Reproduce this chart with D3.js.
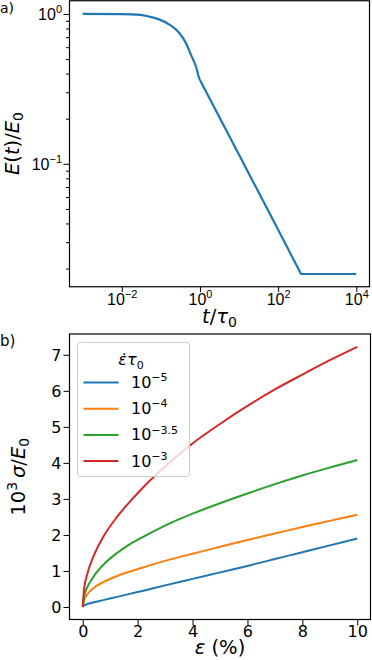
<!DOCTYPE html>
<html>
<head>
<meta charset="utf-8">
<script src="https://cdn.jsdelivr.net/npm/d3@7"></script>
<style>
  body { margin: 0; background: #fff; }
  svg { display: block; font-family: "DejaVu Sans", sans-serif; }
</style>
</head>
<body>
<div id="chart"></div>
<script>
// panel a) relaxation modulus
const relaxT = [0.001, 0.01, 0.03, 0.05, 0.09, 0.17, 0.3, 0.44, 0.59, 0.79, 0.96, 1, 10, 100, 385, 10000];
const relaxE = [1.0, 0.997, 0.985, 0.96, 0.92, 0.845, 0.743, 0.638, 0.533, 0.446, 0.372, 0.363, 0.115, 0.0363, 0.0184, 0.0184];
const kinkIndex = 11; // t = 1, smooth before, straight after

const topXTicks = [1e-2, 1, 1e2, 1e4];
const topXExp = ["\u22122", "0", "2", "4"];
const topYTicks = [0.1, 1];
const topYExp = ["\u22121", "0"];

// panel b) stress-strain curves
const strain = [0, 0.05, 0.15, 0.4, 0.75, 1.25, 1.75, 2.25, 3, 4, 5, 6, 7, 8, 9, 10];
const rateLabels = ["\u22125", "\u22124", "\u22123.5", "\u22123"];
const rateColors = ["#1f77b4", "#ff7f0e", "#2ca02c", "#d62728"];
const stressSlow = [0, 0.04, 0.075, 0.13, 0.19, 0.28, 0.37, 0.46, 0.60, 0.78, 0.96, 1.14, 1.33, 1.52, 1.71, 1.90];
const stressMid = [0, 0.18, 0.33, 0.53, 0.69, 0.86, 0.99, 1.11, 1.28, 1.48, 1.67, 1.86, 2.04, 2.22, 2.39, 2.56];
const stressFast = [0, 0.30, 0.52, 0.85, 1.17, 1.50, 1.76, 1.97, 2.26, 2.59, 2.88, 3.15, 3.41, 3.65, 3.87, 4.08];
const stressFastest = [0, 0.50, 0.87, 1.42, 1.95, 2.50, 2.95, 3.36, 3.90, 4.54, 5.08, 5.58, 6.04, 6.45, 6.85, 7.22];
const stressSeries = [stressSlow, stressMid, stressFast, stressFastest];
const botXTicks = [0, 2, 4, 6, 8, 10];
const botYTicks = [0, 1, 2, 3, 4, 5, 6, 7];

const W = 372, H = 660;
const FS = 16, LFS = 19.5;
const svg = d3.select("#chart").append("svg").attr("width", W).attr("height", H);

// write text made of parts: {t, i (italic), sup, sub}
function rich(sel, parts, size) {
    const small = Math.round(size * 0.7);
    let shift = 0;
    parts.forEach(p => {
        const ts = sel.append("tspan").text(p.t);
        let target = 0;
        if (p.sup) target = -size * 0.42;
        if (p.sub) target = size * 0.22;
        ts.attr("dy", target - shift);
        shift = target;
        if (p.sup || p.sub) ts.attr("font-size", small);
        if (p.i) ts.attr("font-style", "italic");
    });
    return sel;
}

// ---------- panel a
const ax = { left: 69, right: 370, top: 0, bottom: 287 };
const xa = d3.scaleLog().domain([Math.pow(10, -3.35), Math.pow(10, 4.35)]).range([ax.left, ax.right]);
const ya = d3.scaleLog().domain([Math.pow(10, -1.822), Math.pow(10, 0.093)]).range([ax.bottom, ax.top]);

const ga = svg.append("g");
ga.append("g")
    .attr("transform", `translate(0,${ax.bottom})`)
    .call(d3.axisBottom(xa).tickValues(topXTicks).tickSize(5).tickFormat(""))
    .call(g => g.select(".domain").remove())
    .selectAll(".tick").each(function(d, i) {
        const t = d3.select(this).append("text").attr("y", 18)
            .attr("fill", "#000").attr("font-size", FS).attr("text-anchor", "middle");
        rich(t, [{t: "10"}, {t: topXExp[i], sup: 1}], FS);
    });

const minorY = [];
[-2, -1].forEach(e => d3.range(2, 10).forEach(m => {
    const v = m * Math.pow(10, e);
    if (v >= ya.domain()[0]) minorY.push(v);
}));
ga.append("g")
    .attr("transform", `translate(${ax.left},0)`)
    .call(d3.axisLeft(ya).tickValues(minorY).tickSize(3).tickFormat(""))
    .call(g => g.select(".domain").remove());
ga.append("g")
    .attr("transform", `translate(${ax.left},0)`)
    .call(d3.axisLeft(ya).tickValues(topYTicks).tickSize(5.5).tickFormat(""))
    .call(g => g.select(".domain").remove())
    .selectAll(".tick").each(function(d, i) {
        const t = d3.select(this).append("text").attr("x", -7).attr("y", 5.5)
            .attr("fill", "#000").attr("font-size", FS).attr("text-anchor", "end");
        rich(t, [{t: "10"}, {t: topYExp[i], sup: 1}], FS);
    });

const relax = relaxT.map((t, i) => [t, relaxE[i]]);
ga.append("path")
    .datum(relax.slice(0, kinkIndex + 1))
    .attr("fill", "none").attr("stroke", "#1f77b4").attr("stroke-width", 2.2)
    .attr("d", d3.line().x(d => xa(d[0])).y(d => ya(d[1])).curve(d3.curveMonotoneX));
ga.append("path")
    .datum(relax.slice(kinkIndex))
    .attr("fill", "none").attr("stroke", "#1f77b4").attr("stroke-width", 2.2)
    .attr("stroke-linejoin", "round")
    .attr("d", d3.line().x(d => xa(d[0])).y(d => ya(d[1])));

ga.append("rect")
    .attr("x", ax.left + 0.5).attr("y", ax.top + 0.75)
    .attr("width", ax.right - ax.left - 1).attr("height", ax.bottom - ax.top - 1)
    .attr("fill", "none").attr("stroke", "#000").attr("stroke-width", 1.2);

rich(ga.append("text").attr("x", (ax.left + ax.right) / 2).attr("y", 323)
        .attr("text-anchor", "middle").attr("font-size", LFS),
    [{t: "t", i: 1}, {t: "/"}, {t: "\u03c4", i: 1}, {t: "0", sub: 1}], LFS);
rich(ga.append("text").attr("transform", `translate(19,${(ax.top + ax.bottom) / 2}) rotate(-90)`)
        .attr("text-anchor", "middle").attr("font-size", LFS),
    [{t: "E", i: 1}, {t: "("}, {t: "t", i: 1}, {t: ")/"}, {t: "E", i: 1}, {t: "0", sub: 1}], LFS);
svg.append("text").attr("x", 0).attr("y", 13).attr("font-size", 14).text("a)");

// ---------- panel b
const bx = { left: 69, right: 371, top: 333.5, bottom: 620 };
const xb = d3.scaleLinear().domain([-0.5, 10.5]).range([bx.left, bx.right]);
const yb = d3.scaleLinear().domain([-0.3615, 7.5915]).range([bx.bottom, bx.top]);

const gb = svg.append("g");
gb.append("g")
    .attr("transform", `translate(0,${bx.bottom})`)
    .call(d3.axisBottom(xb).tickValues(botXTicks).tickSize(5.5).tickPadding(3))
    .call(g => g.select(".domain").remove())
    .call(g => g.selectAll("text").attr("font-size", FS).attr("fill", "#000")
        .attr("font-family", "DejaVu Sans").attr("dy", null).attr("y", 17));
gb.append("g")
    .attr("transform", `translate(${bx.left},0)`)
    .call(d3.axisLeft(yb).tickValues(botYTicks).tickSize(5.5).tickPadding(2))
    .call(g => g.select(".domain").remove())
    .call(g => g.selectAll("text").attr("font-size", FS).attr("fill", "#000")
        .attr("font-family", "DejaVu Sans").attr("dy", "0.36em"));

const stressLine = d3.line().x((d, i) => xb(strain[i])).y(d => yb(d)).curve(d3.curveMonotoneX);
gb.selectAll(".curve")
    .data(stressSeries)
    .join("path")
    .attr("class", "curve")
    .attr("fill", "none")
    .attr("stroke", (d, i) => rateColors[i])
    .attr("stroke-width", 2)
    .attr("d", stressLine);

gb.append("rect")
    .attr("x", bx.left + 0.5).attr("y", bx.top + 0.5)
    .attr("width", bx.right - bx.left - 1).attr("height", bx.bottom - bx.top - 1)
    .attr("fill", "none").attr("stroke", "#000").attr("stroke-width", 1.2);

// legend
const lg = gb.append("g");
lg.append("rect")
    .attr("x", 77.5).attr("y", 342.5).attr("width", 112).attr("height", 134).attr("rx", 3)
    .attr("fill", "#fff").attr("fill-opacity", 0.8)
    .attr("stroke", "#cccccc").attr("stroke-width", 1);
rich(lg.append("text").attr("x", 131).attr("y", 365)
        .attr("text-anchor", "middle").attr("font-size", FS),
    [{t: "\u03b5\u0307", i: 1}, {t: "\u03c4", i: 1}, {t: "0", sub: 1}], FS);
rateLabels.forEach((lab, i) => {
    const yy = 382.5 + i * 26.2;
    lg.append("line").attr("x1", 83.5).attr("x2", 118.5).attr("y1", yy).attr("y2", yy)
        .attr("stroke", rateColors[i]).attr("stroke-width", 2);
    rich(lg.append("text").attr("x", 131).attr("y", yy + 5.5).attr("font-size", FS),
        [{t: "10"}, {t: lab, sup: 1}], FS);
});

rich(gb.append("text").attr("x", (bx.left + bx.right) / 2).attr("y", 654)
        .attr("text-anchor", "middle").attr("font-size", LFS),
    [{t: "\u03b5", i: 1}, {t: " (%)"}], LFS);
rich(gb.append("text").attr("transform", `translate(25,${(bx.top + bx.bottom) / 2}) rotate(-90)`)
        .attr("text-anchor", "middle").attr("font-size", LFS),
    [{t: "10"}, {t: "3", sup: 1}, {t: "\u2009"}, {t: "\u03c3", i: 1}, {t: "/"}, {t: "E", i: 1}, {t: "0", sub: 1}], LFS);
svg.append("text").attr("x", 0).attr("y", 346).attr("font-size", 15).text("b)");
</script>
</body>
</html>
